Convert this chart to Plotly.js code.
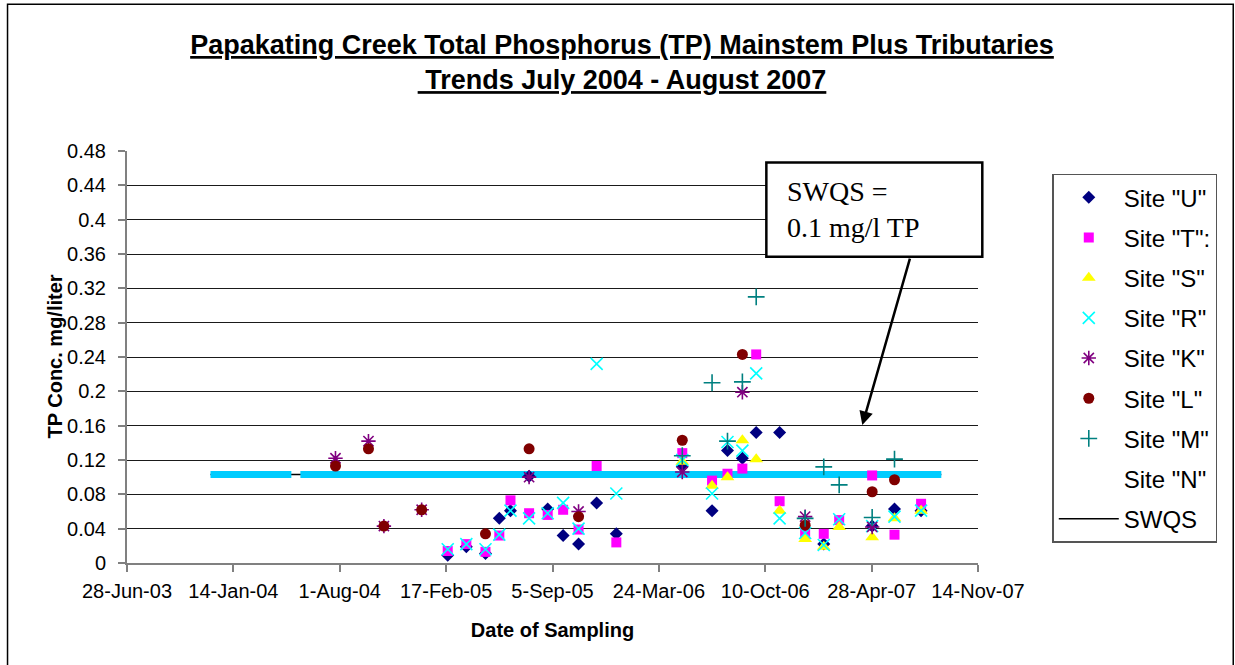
<!DOCTYPE html>
<html><head><meta charset="utf-8">
<script src="https://cdn.plot.ly/plotly-3.0.1.min.js"></script>
<style>html,body{margin:0;padding:0;background:#fff}#chart{width:1235px;height:665px}</style>
</head><body><div id="chart"></div>
<script>
// Dates are Excel serial day numbers (as in the source workbook)
const tickDays = [37800, 38000, 38200, 38400, 38600, 38800, 39000, 39200, 39400];
const tickLabels = ['28-Jun-03','14-Jan-04','1-Aug-04','17-Feb-05','5-Sep-05','24-Mar-06','10-Oct-06','28-Apr-07','14-Nov-07'];

const siteUDays = [38403,38438,38474,38500,38521,38556,38591,38620,38649,38683,38720,38844,38900,38929,38957,38983,39027,39110,39201,39243,39293];
const siteUTP   = [0.009,0.019,0.011,0.052,0.061,0.101,0.063,0.032,0.022,0.070,0.034,0.112,0.061,0.131,0.122,0.152,0.152,0.022,0.043,0.063,0.061];

const siteTDays = [38403,38438,38474,38500,38521,38556,38591,38620,38649,38683,38720,38844,38900,38929,38957,38983,39027,39075,39110,39139,39201,39243,39293];
const siteTTP   = [0.014,0.022,0.013,0.032,0.073,0.058,0.056,0.062,0.039,0.113,0.024,0.128,0.096,0.104,0.110,0.243,0.072,0.034,0.034,0.050,0.102,0.033,0.069];

const siteSDays = [38844,38900,38929,38957,38983,39027,39075,39110,39139,39201,39243,39293];
const siteSTP   = [0.118,0.090,0.100,0.143,0.121,0.061,0.028,0.019,0.042,0.030,0.052,0.061];

const siteRDays = [38403,38438,38474,38500,38521,38556,38591,38620,38649,38683,38720,38844,38900,38929,38957,38983,39027,39075,39110,39139,39201,39243,39293];
const siteRTP   = [0.016,0.022,0.016,0.033,0.061,0.052,0.058,0.070,0.040,0.232,0.081,0.120,0.081,0.141,0.131,0.221,0.052,0.035,0.021,0.051,0.043,0.054,0.061];

const siteKDays = [38192,38254,38283,38354,38556,38649,38844,38957,39075,39201];
const siteKTP   = [0.122,0.142,0.043,0.062,0.100,0.060,0.106,0.199,0.054,0.042];

const siteLDays = [38192,38254,38283,38354,38474,38556,38649,38844,38957,39075,39201,39243];
const siteLTP   = [0.113,0.133,0.043,0.062,0.034,0.133,0.054,0.143,0.243,0.044,0.083,0.097];

const siteMDays = [38844,38900,38929,38957,38983,39075,39110,39139,39201,39243];
const siteMTP   = [0.125,0.210,0.142,0.211,0.310,0.052,0.112,0.091,0.053,0.121];

const siteNDays = [null];
const siteNTP   = [null];

const swqsDays = [37957, 39331];
const swqsTP   = [0.103, 0.103];
const swqsBandDays = [37957, 38109, null, 38126, 39331];
const swqsBandTP   = [0.103, 0.103, null, 0.103, 0.103];

function toDate(s){ if (s === null) return null; return new Date(Date.UTC(1899,11,30) + s*86400000).toISOString().slice(0,10); }
const D = a => a.map(toDate);

const FONT = 'Liberation Sans, Arial, sans-serif';

function site(name, days, vals, symbol, color, size, rank, lineMarker){
  const m = {symbol: symbol, size: size, color: color};
  if (lineMarker) m.line = {color: color, width: 1.6};
  return {type:'scatter', mode:'markers', name:name, x:D(days), y:vals, marker:m,
          legendgroup:name, legendrank:rank, cliponaxis:false};
}

const traces = [
  {type:'scatter', mode:'lines', name:'SWQS', x:D(swqsDays), y:swqsTP, line:{color:'#000000', width:1.5},
   legendgroup:'SWQS', legendrank:9},
  {type:'scatter', mode:'lines', name:'band', x:D(swqsBandDays), y:swqsBandTP, connectgaps:false,
   line:{color:'#00CCFF', width:7}, showlegend:false},
  site('Site "U"', siteUDays, siteUTP, 'diamond', '#000080', 10, 1),
  site('Site "T":', siteTDays, siteTTP, 'square', '#FF00FF', 10, 2),
  site('Site "S"', siteSDays, siteSTP, 'triangle-up', '#FFFF00', 12, 3),
  site('Site "R"', siteRDays, siteRTP, 'x-thin-open', '#00FFFF', 12, 4, true),
  site('Site "K"', siteKDays, siteKTP, 'asterisk-open', '#800080', 12, 5, true),
  site('Site "L"', siteLDays, siteLTP, 'circle', '#800000', 11, 6),
  site('Site "M"', siteMDays, siteMTP, 'cross-thin-open', '#008080', 12, 7, true),
  site('Site "N"', siteNDays, siteNTP, 'circle', 'rgba(0,0,0,0)', 10, 8)
];

const L = 126.5, R = 977.7, T = 151.4, B = 562.7;
const px = x => (x - L) / (R - L);
const py = y => (B - y) / (B - T);

const layout = {
  width: 1235, height: 665,
  margin: {l: L, r: 1235 - R, t: T, b: 665 - B, pad: 0},
  paper_bgcolor: '#ffffff', plot_bgcolor: '#ffffff',
  font: {family: FONT, color: '#000000', size: 20},
  showlegend: true,
  title: {
    text: '<b><u>Papakating Creek Total Phosphorus (TP) Mainstem Plus Tributaries</u></b><br><b><u> Trends July 2004 - August 2007</u></b>',
    font: {family: FONT, size: 27, color: '#000000'},
    xref: 'container', x: 622/1235, xanchor: 'center',
    yref: 'container', y: 1 - 54/665, yanchor: 'top'
  },
  xaxis: {
    type: 'date',
    range: [toDate(tickDays[0]), toDate(tickDays[tickDays.length-1])],
    tickmode: 'array', tickvals: D(tickDays), ticktext: tickLabels,
    showgrid: false, zeroline: false,
    showline: true, linecolor: '#808080', linewidth: 2,
    ticks: 'outside', ticklen: 7, tickcolor: '#808080', tickwidth: 2,
    tickfont: {family: FONT, size: 20, color: '#000000'},
    ticklabelstandoff: 2,
    title: {text: '<b>Date of Sampling</b>', font: {family: FONT, size: 20, color: '#000000'}, standoff: 22}
  },
  yaxis: {
    range: [0, 0.48], dtick: 0.04, tick0: 0,
    showgrid: true, gridcolor: '#1a1a1a', gridwidth: 1,
    zeroline: false,
    showline: true, linecolor: '#808080', linewidth: 2,
    ticks: 'outside', ticklen: 7, tickcolor: '#808080', tickwidth: 2,
    tickfont: {family: FONT, size: 20, color: '#000000'},
    ticklabelstandoff: 8
  },
  legend: {
    x: px(1052), xanchor: 'left', y: py(174), yanchor: 'top',
    bgcolor: '#ffffff', bordercolor: '#555555', borderwidth: 1.5,
    font: {family: FONT, size: 24, color: '#000000'},
    itemwidth: 60, tracegroupgap: 6, traceorder: 'grouped'
  },
  shapes: [
    {type: 'path', xref: 'paper', yref: 'paper',
     path: 'M ' + px(7) + ' ' + py(700) + ' L ' + px(7) + ' ' + py(5) + ' L ' + px(1233) + ' ' + py(5) + ' L ' + px(1233) + ' ' + py(700),
     line: {color: '#000000', width: 1.5}, layer: 'above'},
    {type: 'rect', xref: 'paper', yref: 'paper', x0: px(766), x1: px(982), y0: py(257), y1: py(163),
     fillcolor: '#ffffff', line: {color: '#000000', width: 2.5}, layer: 'above'}
  ],
  annotations: [
    {xref: 'paper', yref: 'paper', x: px(54), xanchor: 'center', y: 0.5, yanchor: 'middle',
     text: '<b>TP Conc. mg/liter</b>', textangle: -90, showarrow: false,
     font: {family: FONT, size: 20, color: '#000000'}},
    {xref: 'paper', yref: 'paper', x: px(785), xanchor: 'left', y: py(210), yanchor: 'middle',
     text: 'SWQS =<br>0.1 mg/l TP', align: 'left', showarrow: false,
     font: {family: 'Liberation Serif, Times New Roman, serif', size: 28, color: '#000000'}},
    {xref: 'paper', yref: 'paper', x: px(862), y: py(425), text: '', showarrow: true,
     axref: 'pixel', ayref: 'pixel', ax: 48, ay: -168,
     arrowhead: 2, arrowsize: 1.1, arrowwidth: 2.5, arrowcolor: '#000000'}
  ]
};

Plotly.newPlot('chart', traces, layout, {staticPlot: true, displayModeBar: false});
</script>
</body></html>
